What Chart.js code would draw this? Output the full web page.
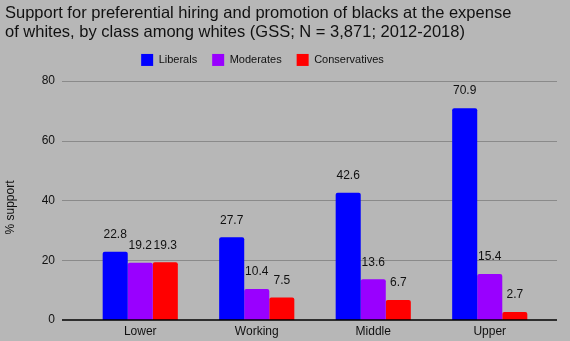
<!DOCTYPE html>
<html>
<head>
<meta charset="utf-8">
<script src="https://cdn.jsdelivr.net/npm/chart.js@4.4.0/dist/chart.umd.min.js"></script>
<style>
  html, body { margin:0; padding:0; background:#b7b7b7; }
  #wrap { width:570px; height:341px; }
</style>
</head>
<body>
<div id="wrap"><canvas id="c" width="570" height="341"></canvas></div>
<script>
// ---------- data ----------
const classes = ['Lower', 'Working', 'Middle', 'Upper'];
const liberals = [22.8, 27.7, 42.6, 70.9];
const moderates = [19.2, 10.4, 13.6, 15.4];
const conservatives = [19.3, 7.5, 6.7, 2.7];
const yTicks = [0, 20, 40, 60, 80];

const FONT = 'Liberation Sans, Arial, sans-serif';

// grid lines run a bit past the plot area, like the original
const gridLines = {
  id: 'gridLines',
  beforeDatasetsDraw(chart){
    const {ctx, chartArea, scales:{y}} = chart;
    const x0 = chartArea.left - 20, x1 = chartArea.right + 9;
    ctx.save();
    ctx.strokeStyle = '#8a8a8a';
    ctx.lineWidth = 1;
    for(const v of yTicks){
      if(v === 0) continue;
      const py = Math.round(y.getPixelForValue(v)) + 0.5;
      ctx.beginPath(); ctx.moveTo(x0, py); ctx.lineTo(x1, py); ctx.stroke();
    }
    ctx.restore();
  },
  afterDatasetsDraw(chart){
    // baseline on top of the bars
    const {ctx, chartArea, scales:{y}} = chart;
    const py = Math.round(y.getPixelForValue(0));
    ctx.save();
    ctx.strokeStyle = '#000000'; ctx.lineWidth = 1.5;
    ctx.beginPath(); ctx.moveTo(chartArea.left - 20, py); ctx.lineTo(chartArea.right + 9, py); ctx.stroke();
    ctx.restore();
  }
};

// value labels above each bar
const valueLabels = {
  id: 'valueLabels',
  afterDatasetsDraw(chart){
    const {ctx} = chart;
    ctx.save();
    ctx.font = '12px ' + FONT;
    ctx.fillStyle = '#111';
    ctx.textAlign = 'center';
    ctx.textBaseline = 'middle';
    chart.data.datasets.forEach((ds, i)=>{
      chart.getDatasetMeta(i).data.forEach((bar, j)=>{
        ctx.fillText(ds.data[j].toFixed(1), bar.x, bar.y - 17);
      });
    });
    ctx.restore();
  }
};

// y axis title sits a little below the middle of the plot in the original
const yTitle = {
  id: 'yTitle',
  afterDraw(chart){
    const {ctx, chartArea} = chart;
    ctx.save();
    ctx.translate(11, (chartArea.top + chartArea.bottom) / 2 + 7);
    ctx.rotate(-Math.PI / 2);
    ctx.font = '12px ' + FONT;
    ctx.fillStyle = '#111';
    ctx.textAlign = 'center';
    ctx.textBaseline = 'middle';
    ctx.fillText('% support', 0, 0);
    ctx.restore();
  }
};

// nudge the legend left so it sits where the original has it
const legendShift = {
  id: 'legendShift',
  afterLayout(chart){
    const lg = chart.legend;
    if(lg){ lg.left -= 14; lg.right -= 14; }
  }
};

Chart.defaults.font.family = FONT;
Chart.defaults.color = '#222';

new Chart(document.getElementById('c'), {
  type: 'bar',
  data: {
    labels: classes,
    datasets: [
      {label:'Liberals', data:liberals, backgroundColor:'#0000ff'},
      {label:'Moderates', data:moderates, backgroundColor:'#9900ff'},
      {label:'Conservatives', data:conservatives, backgroundColor:'#ff0000'}
    ]
  },
  options: {
    responsive: false,
    animation: false,
    layout: {padding: {left:5, right:22, top:4, bottom:2}},
    datasets: {bar: {categoryPercentage:0.645, barPercentage:1, borderRadius:2, borderSkipped:'bottom'}},
    plugins: {
      title: {
        display: true,
        align: 'start',
        text: ['Support for preferential hiring and promotion of blacks at the expense',
               'of whites, by class among whites (GSS; N = 3,871; 2012-2018)'],
        color: '#111',
        font: {size:16.5, weight:'normal', lineHeight:1.15},
        padding: {top:0, bottom:-3}
      },
      legend: {
        labels: {boxWidth:12, boxHeight:12, padding:15, color:'#111', font:{size:11}}
      },
      tooltip: {enabled:false}
    },
    scales: {
      x: {
        grid: {display:false, drawTicks:false},
        border: {display:false},
        ticks: {color:'#111', font:{size:12}, padding:4},
        afterFit(s){ s.height = 19; }
      },
      // empty spacer above the plot so the plot top lands at the right height
      xTop: {
        type: 'category',
        position: 'top',
        grid: {display:false, drawTicks:false},
        border: {display:false},
        ticks: {display:false},
        afterFit(s){ s.height = 5; }
      },
      y: {
        min: 0, max: 80,
        ticks: {stepSize:20, color:'#111', font:{size:12}, padding:0},
        // hidden tick marks only push the labels away from the plot
        grid: {display:false, drawTicks:true, tickLength:27},
        border: {display:false},
        afterFit(s){ s.width = 77; }
      }
    }
  },
  plugins: [gridLines, valueLabels, yTitle, legendShift]
});
</script>
</body>
</html>
